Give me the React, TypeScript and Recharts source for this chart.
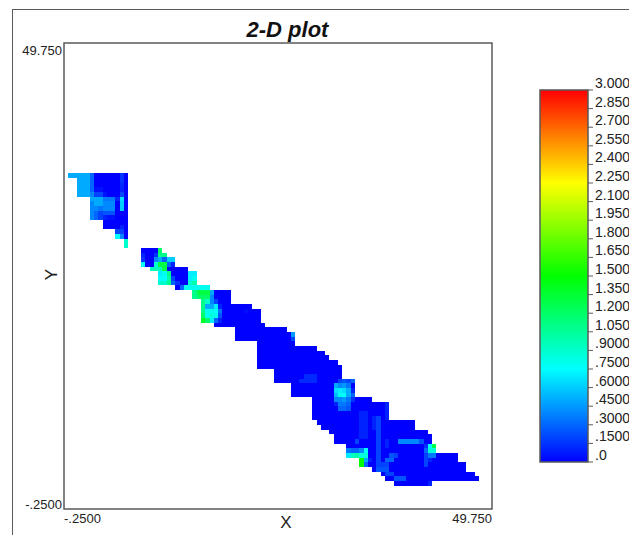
import { Bar, BarChart, Label, ReferenceArea, Scatter, ScatterChart, XAxis, YAxis } from "recharts";

// [row, firstCol, lastCol] extent of each row of the grid, at the base value
const rowExtents = [
  [71, 1, 14], [70, 3, 14], [69, 3, 14], [68, 3, 14], [67, 3, 14], [66, 6, 14], [65, 6, 14], [64, 6, 14],
  [63, 6, 14], [62, 6, 14], [61, 9, 14], [60, 9, 14], [59, 12, 14], [58, 12, 14], [57, 14, 14], [56, 14, 14],
  [55, 18, 22], [54, 18, 23], [53, 18, 25], [52, 18, 25], [51, 20, 28], [50, 22, 30], [49, 22, 30], [48, 22, 30],
  [47, 26, 33], [46, 30, 38], [45, 30, 38], [44, 32, 38], [43, 32, 43], [42, 32, 45], [41, 32, 45], [40, 32, 45],
  [39, 35, 46], [38, 40, 51], [37, 40, 53], [36, 40, 53], [35, 45, 53], [34, 45, 58], [33, 45, 60], [32, 45, 61],
  [31, 45, 63], [30, 45, 64], [29, 49, 64], [28, 49, 64], [27, 49, 67], [26, 53, 67], [25, 53, 67], [24, 53, 67],
  [23, 58, 71], [22, 58, 75], [21, 58, 75], [20, 58, 75], [19, 58, 75], [18, 59, 81], [17, 60, 81], [16, 62, 84],
  [15, 63, 85], [14, 63, 85], [13, 66, 86], [12, 66, 86], [11, 66, 91], [10, 69, 91], [9, 69, 93], [8, 72, 93],
  [7, 74, 95], [6, 75, 96], [5, 77, 85],
];
const baseValue = 0;

// [row, firstCol, lastCol, value] patches that differ from the base value
const upperPatches = [
  [71, 1, 5, 0.5], [71, 6, 6, 0.3], [71, 13, 13, 0.15],
  [70, 3, 5, 0.5], [70, 6, 6, 0.3], [70, 13, 13, 0.15],
  [69, 3, 5, 0.5], [69, 6, 6, 0.3], [69, 13, 13, 0.12],
  [68, 3, 5, 0.5], [68, 6, 6, 0.3], [68, 7, 8, 0.05], [68, 13, 13, 0.1],
  [67, 3, 5, 0.5], [67, 6, 6, 0.4], [67, 7, 8, 0.2], [67, 9, 9, 0.05], [67, 13, 13, 0.2],
  [66, 6, 8, 0.5], [66, 9, 11, 0.35], [66, 12, 12, 0.1], [66, 13, 13, 0.65],
  [65, 6, 6, 0.4], [65, 7, 8, 0.5], [65, 9, 11, 0.4], [65, 13, 13, 0.6],
  [64, 6, 7, 0.4], [64, 8, 8, 0.35], [64, 9, 11, 0.4], [64, 13, 13, 0.6],
  [63, 6, 6, 0.4], [63, 7, 7, 0.3], [63, 8, 8, 0.2], [63, 9, 11, 0.25],
  [62, 6, 6, 0.4], [62, 7, 7, 0.3], [62, 8, 8, 0.2], [62, 9, 9, 0.1], [62, 10, 11, 0.05],
  [60, 13, 13, 0.1], [59, 12, 13, 0.2], [58, 12, 12, 0.75], [58, 13, 13, 0.4],
  [57, 14, 14, 0.9], [56, 14, 14, 0.9],
];
const middlePatches = [
  [55, 22, 22, 1.2],
  [54, 18, 18, 0.1], [54, 21, 21, 0.15], [54, 22, 23, 1.1],
  [53, 18, 18, 0.15], [53, 21, 21, 0.4], [53, 22, 22, 0.5], [53, 23, 23, 0.3], [53, 24, 25, 0.6],
  [52, 18, 18, 0.75], [52, 21, 21, 0.9], [52, 22, 23, 1.3], [52, 24, 24, 0.3], [52, 25, 25, 0.1],
  [51, 20, 22, 0.95], [51, 23, 23, 1.3],
  [50, 22, 22, 0.7], [50, 23, 23, 0.8], [50, 24, 24, 1.1], [50, 29, 30, 0.7],
  [49, 22, 23, 0.75], [49, 24, 24, 1.0], [49, 25, 25, 0.2], [49, 29, 29, 0.7], [49, 30, 30, 0.8],
  [48, 22, 23, 0.9], [48, 24, 24, 1.1], [48, 25, 25, 0.3], [48, 26, 26, 0.15], [48, 29, 29, 0.9], [48, 30, 30, 1.0],
  [47, 27, 27, 0.3], [47, 28, 33, 0.8],
  [46, 30, 30, 1.1], [46, 31, 33, 1.3], [46, 34, 34, 0.5],
  [45, 30, 30, 1.1], [45, 31, 33, 1.2], [45, 34, 34, 0.4],
  [44, 32, 32, 1.1], [44, 33, 33, 0.9], [44, 34, 34, 0.4], [44, 35, 35, 0.2],
  [43, 32, 32, 1.1], [43, 33, 34, 0.5], [43, 35, 35, 0.7], [43, 36, 36, 0.1],
  [42, 32, 32, 1.1], [42, 33, 34, 0.8], [42, 35, 35, 0.75], [42, 36, 36, 0.35], [42, 42, 42, 0.04],
  [41, 32, 32, 1.2], [41, 33, 33, 0.8], [41, 34, 34, 0.85], [41, 35, 35, 0.8], [41, 36, 36, 0.25],
  [40, 32, 32, 1.4], [40, 33, 33, 1.2], [40, 34, 34, 0.7], [40, 35, 35, 0.3], [40, 36, 36, 0.1],
  [37, 53, 53, 0.45], [36, 53, 53, 0.2],
];
const lowerPatches = [
  [28, 56, 58, 0.12], [27, 55, 58, 0.12],
  [27, 64, 64, 0.2], [27, 65, 65, 0.25], [27, 66, 66, 0.2], [27, 67, 67, 0.3],
  [26, 63, 63, 0.5], [26, 64, 64, 0.4], [26, 65, 65, 0.45], [26, 66, 66, 0.35],
  [25, 63, 63, 0.65], [25, 64, 64, 0.7], [25, 65, 65, 0.65], [25, 66, 66, 0.5], [25, 67, 67, 0.1],
  [24, 63, 63, 0.55], [24, 64, 64, 0.8], [24, 65, 65, 0.75], [24, 66, 66, 0.5], [24, 67, 67, 0.3],
  [23, 63, 64, 0.4], [23, 65, 65, 0.45], [23, 66, 66, 0.35], [23, 67, 67, 0.15],
  [22, 63, 63, 0.1], [22, 64, 65, 0.35], [22, 66, 66, 0.3], [22, 75, 75, 0.1],
  [21, 64, 65, 0.3], [21, 66, 66, 0.25], [21, 75, 75, 0.1],
  [20, 69, 70, 0.1], [20, 75, 75, 0.1], [19, 69, 70, 0.1], [19, 72, 72, 0.1], [19, 73, 73, 0.2], [19, 75, 75, 0.1],
  [18, 69, 70, 0.1], [18, 72, 72, 0.1], [18, 73, 73, 0.2],
  [17, 69, 70, 0.1], [17, 72, 72, 0.1], [17, 73, 73, 0.2],
  [16, 69, 70, 0.1], [16, 73, 73, 0.2], [15, 69, 70, 0.1], [15, 73, 73, 0.2],
  [14, 68, 68, 0.2], [14, 73, 73, 0.2], [14, 75, 75, 0.1], [14, 78, 82, 0.4], [14, 83, 83, 0.25],
  [13, 73, 73, 0.2], [13, 75, 75, 0.1], [13, 84, 84, 0.15], [13, 85, 85, 0.75], [13, 86, 86, 1.3],
  [12, 66, 66, 0.35], [12, 67, 68, 0.3], [12, 69, 69, 0.4], [12, 70, 70, 0.75], [12, 73, 73, 0.2],
  [12, 84, 84, 0.3], [12, 85, 86, 0.85],
  [11, 66, 66, 0.7], [11, 67, 67, 0.95], [11, 68, 68, 1.0], [11, 69, 70, 0.85], [11, 73, 73, 0.2],
  [11, 76, 76, 0.25], [11, 77, 77, 0.2], [11, 84, 84, 0.2], [11, 85, 86, 0.35],
  [10, 69, 69, 1.5], [10, 70, 70, 0.5], [10, 71, 71, 0.1], [10, 73, 73, 0.2], [10, 75, 76, 0.3],
  [10, 84, 84, 0.2], [10, 85, 85, 0.1],
  [9, 69, 69, 1.5], [9, 70, 70, 0.3], [9, 73, 73, 0.2], [9, 74, 75, 0.2], [9, 84, 84, 0.2],
  [8, 73, 75, 0.25], [7, 75, 76, 0.2], [6, 77, 79, 0.25], [5, 85, 85, 0.1],
];

const axisTicks = [-0.25, 49.75];
const axisTickLabels = ["-.2500", "49.750"];
const colorTicks = [3, 2.85, 2.7, 2.55, 2.4, 2.25, 2.1, 1.95, 1.8, 1.65, 1.5, 1.35, 1.2, 1.05, 0.9, 0.75, 0.6, 0.45, 0.3, 0.15, 0];
const colorTickLabels = ["3.000", "2.850", "2.700", "2.550", "2.400", "2.250", "2.100", "1.950", "1.800", "1.650", "1.500", "1.350", "1.200", "1.050", ".9000", ".7500", ".6000", ".4500", ".3000", ".1500", ".0"];
const colorStops: [number, number, number][] = [
  [0, 0, 255],
  [0, 255, 255],
  [0, 255, 0],
  [255, 255, 0],
  [255, 0, 0],
];

const CHART_W = 500;
const CHART_H = 535;
const PLOT_LEFT = 64;
const PLOT_TOP = 43;
const PLOT_W = 428;
const PLOT_H = 466;
const CELL_W = PLOT_W / 100;
const CELL_H = PLOT_H / 100;
const LINE = "#5a5a5a";
const FONT = "'Liberation Sans', Arial, sans-serif";

function colorFor(v: number) {
  const t = Math.min(Math.max(v / 3, 0), 1) * (colorStops.length - 1);
  const i = Math.min(Math.floor(t), colorStops.length - 2);
  const f = t - i;
  const c = colorStops[i].map((a, k) => Math.round(a + (colorStops[i + 1][k] - a) * f));
  return `rgb(${c[0]},${c[1]},${c[2]})`;
}

const patches = [...upperPatches, ...middlePatches, ...lowerPatches];
const cells = rowExtents.flatMap(([row, first, last]) => {
  const out = [];
  for (let col = first; col <= last; col++) {
    const p = patches.find((q) => q[0] === row && col >= q[1] && col <= q[2]);
    out.push({ x: col * 0.5, y: row * 0.5, value: p ? p[3] : baseValue });
  }
  return out;
});

const HeatCell = (props: any) => (
  <rect
    x={props.cx - CELL_W / 2}
    y={props.cy - CELL_H / 2}
    width={CELL_W}
    height={CELL_H}
    fill={colorFor(props.payload.value)}
    shapeRendering="crispEdges"
  />
);

const XTick = ({ x, y, payload }: any) => (
  <text
    x={x}
    y={y + 6}
    fontSize={13}
    fontFamily={FONT}
    fill="#222"
    textAnchor={payload.value < 0 ? "start" : "end"}
  >
    {axisTickLabels[axisTicks.indexOf(payload.value)]}
  </text>
);

const YTick = ({ x, y, payload }: any) => (
  <text
    x={x + 6}
    y={payload.value < 0 ? y : y + 12}
    fontSize={13}
    fontFamily={FONT}
    fill="#222"
    textAnchor="end"
  >
    {axisTickLabels[axisTicks.indexOf(payload.value)]}
  </text>
);

const ColorTick = ({ x, y, payload }: any) => (
  <g>
    <line x1={x} x2={x + 5} y1={y} y2={y} stroke={LINE} strokeWidth={1} />
    <text x={x + 7} y={y - 2} fontSize={14} fontFamily={FONT} fill="#222">
      {colorTickLabels[colorTicks.indexOf(payload.value)]}
    </text>
  </g>
);

export default function App() {
  return (
    <div style={{ position: "absolute", left: 0, top: 0, width: 629, height: 535, background: "#fff", overflow: "hidden" }}>
      <div
        style={{
          position: "absolute",
          left: 12,
          top: 9,
          width: 640,
          height: 560,
          borderLeft: `1px solid ${LINE}`,
          borderTop: `1px solid ${LINE}`,
        }}
      />
      <div style={{ position: "absolute", left: 0, top: 0 }}>
        <ScatterChart
          width={CHART_W}
          height={CHART_H}
          margin={{ left: PLOT_LEFT - 44, top: PLOT_TOP, right: CHART_W - PLOT_LEFT - PLOT_W, bottom: 0 }}
        >
          <XAxis
            type="number"
            dataKey="x"
            domain={[-0.25, 49.75]}
            ticks={axisTicks}
            interval={0}
            tick={XTick}
            tickLine={false}
            axisLine={false}
            height={CHART_H - PLOT_TOP - PLOT_H}
            allowDataOverflow
          >
            <Label value="X" position="insideBottom" offset={7} dx={8} fontSize={17} fontFamily={FONT} fill="#222" />
          </XAxis>
          <YAxis
            type="number"
            dataKey="y"
            domain={[-0.25, 49.75]}
            ticks={axisTicks}
            interval={0}
            tick={YTick}
            tickLine={false}
            axisLine={false}
            width={44}
            allowDataOverflow
          >
            <Label value="Y" angle={-90} position="insideRight" offset={13} dy={-7} fontSize={17} fontFamily={FONT} fill="#222" />
          </YAxis>
          <Scatter data={cells} shape={HeatCell} isAnimationActive={false} />
          <ReferenceArea
            x1={-0.25}
            x2={49.75}
            y1={-0.25}
            y2={49.75}
            fill="none"
            stroke={LINE}
            strokeWidth={1.5}
          />
          <text
            x={287.5}
            y={37}
            textAnchor="middle"
            fontSize={22}
            fontWeight="bold"
            fontStyle="italic"
            fontFamily={FONT}
            fill="#111"
          >
            2-D plot
          </text>
        </ScatterChart>
      </div>
      <div style={{ position: "absolute", left: 530, top: 0 }}>
        <BarChart
          width={99}
          height={CHART_H}
          data={[{ name: "scale", top: 3 }]}
          margin={{ left: 10, top: 90, right: 0, bottom: 73 }}
          barCategoryGap={0}
        >
          <defs>
            <linearGradient id="colorScale" x1="0" y1="1" x2="0" y2="0">
              {colorStops.map((c, i) => (
                <stop
                  key={i}
                  offset={i / (colorStops.length - 1)}
                  stopColor={`rgb(${c[0]},${c[1]},${c[2]})`}
                />
              ))}
            </linearGradient>
          </defs>
          <XAxis dataKey="name" hide />
          <YAxis
            orientation="right"
            type="number"
            domain={[0, 3]}
            ticks={colorTicks}
            interval={0}
            tick={ColorTick}
            tickLine={false}
            axisLine={false}
            tickSize={0}
            tickMargin={0}
            width={41}
          />
          <Bar dataKey="top" fill="url(#colorScale)" stroke={LINE} strokeWidth={1.5} isAnimationActive={false} />
        </BarChart>
      </div>
    </div>
  );
}
